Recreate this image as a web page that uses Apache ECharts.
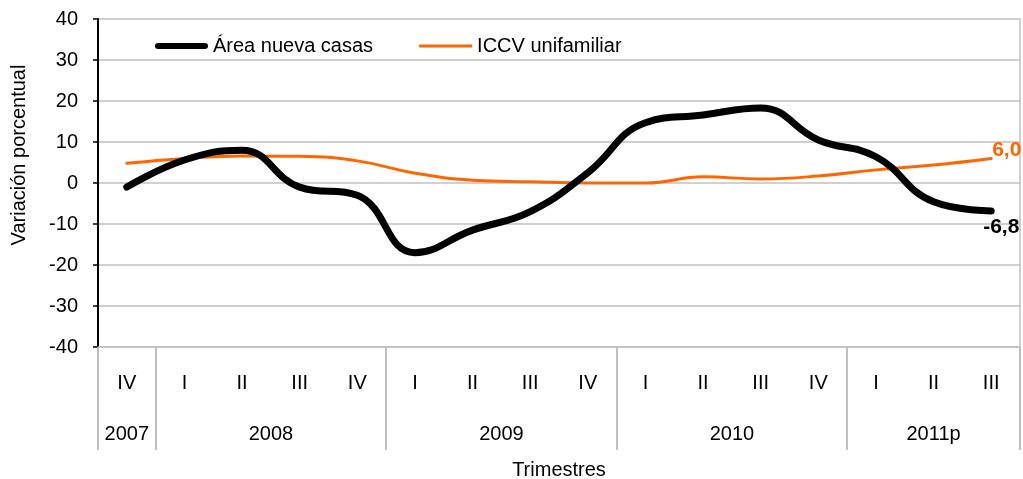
<!DOCTYPE html>
<html>
<head>
<meta charset="utf-8">
<script src="https://cdn.jsdelivr.net/npm/echarts@6/dist/echarts.min.js"></script>
<style>
  html, body { margin: 0; padding: 0; background: #fff; }
  #chart { width: 1023px; height: 479px; }
</style>
</head>
<body>
<div id="chart"></div>
<script>
// trimestres
const quarters = ['IV', 'I', 'II', 'III', 'IV', 'I', 'II', 'III', 'IV', 'I', 'II', 'III', 'IV', 'I', 'II', 'III'];
// años (segundo nivel del eje, 33 puntos de medio trimestre)
const years = ['2007', '2008', '2009', '2010', '2011p'];
const yearMid = [1, 6, 14, 22, 29];
const yearBounds = [0, 2, 10, 18, 26, 32];

const areaNueva = [-1.0, 5.6, 8.0, -1.0, -3.0, -17.0, -11.5, -7.0, 2.5, 14.7, 16.6, 18.3, 10.5, 6.4, -4.6, -6.8];
const iccv = [4.8, 6.0, 6.6, 6.5, 5.4, 2.4, 0.7, 0.3, 0.0, 0.0, 1.5, 1.0, 1.7, 3.2, 4.4, 6.0];

const yearAxisData = [];
for (let i = 0; i <= 32; i++) {
  const k = yearMid.indexOf(i);
  yearAxisData.push(k >= 0 ? years[k] : '');
}

const font = 'Arial, "Liberation Sans", sans-serif';
const commaFmt = p => Number(p.value).toFixed(1).replace('.', ',');

const chart = echarts.init(document.getElementById('chart'), null, { renderer: 'canvas' });

const option = {
  animation: false,
  textStyle: { fontFamily: font },
  grid: { left: 98, right: 3, top: 19, bottom: 132, containLabel: false, outerBoundsMode: 'none' },
  legend: {
    top: 31,
    left: 150,
    itemWidth: 53,
    itemHeight: 14,
    itemGap: 46,
    textStyle: { fontSize: 20, color: '#000', fontFamily: font },
    data: [
      { name: 'Área nueva casas', icon: 'path://M3,0 L50,0 A3,3 0 0 1 50,6 L3,6 A3,3 0 0 1 3,0 Z' },
      { name: 'ICCV unifamiliar', icon: 'path://M0,0 L53,0 L53,3 L0,3 Z' }
    ]
  },
  xAxis: [
    {
      type: 'category',
      data: quarters,
      boundaryGap: true,
      position: 'bottom',
      axisLine: { show: true, onZero: false, lineStyle: { color: '#bfbfbf', width: 1.5 } },
      axisTick: { show: false },
      axisLabel: { color: '#000', fontSize: 20, margin: 26, interval: 0 },
      splitLine: { show: false }
    },
    {
      type: 'category',
      data: yearAxisData,
      boundaryGap: false,
      position: 'bottom',
      offset: 0,
      axisLine: { show: false, onZero: false },
      axisTick: {
        show: true,
        length: 103,
        interval: (i) => yearBounds.indexOf(i) >= 0,
        lineStyle: { color: '#bfbfbf', width: 2 }
      },
      axisLabel: {
        color: '#000',
        fontSize: 20,
        margin: 77,
        interval: (i) => yearMid.indexOf(i) >= 0
      },
      name: 'Trimestres',
      nameLocation: 'middle',
      nameGap: 113,
      nameTextStyle: { color: '#000', fontSize: 20 }
    }
  ],
  yAxis: [
    {
      type: 'value',
      min: -40,
      max: 40,
      interval: 10,
      axisLine: { show: true, onZero: false, lineStyle: { color: '#000', width: 2 } },
      axisTick: { show: true, length: 5, lineStyle: { color: '#000', width: 1.5 } },
      axisLabel: { color: '#000', fontSize: 20, margin: 20 },
      splitLine: { show: true, lineStyle: { color: '#c0c0c0', width: 1.5 } },
      name: 'Variación porcentual',
      nameLocation: 'middle',
      nameGap: 69,
      nameTextStyle: { color: '#000', fontSize: 20, padding: [0, 0, 0, 56] }
    },
    {
      type: 'value',
      position: 'right',
      min: -40,
      max: 40,
      interval: 10,
      axisLine: { show: true, onZero: false, lineStyle: { color: '#c0c0c0', width: 1.5 } },
      axisTick: { show: false },
      axisLabel: { show: false },
      splitLine: { show: false }
    }
  ],
  series: [
    {
      name: 'Área nueva casas',
      type: 'line',
      xAxisIndex: 0,
      yAxisIndex: 0,
      smooth: 0.45,
      showSymbol: false,
      symbol: 'none',
      z: 3,
      lineStyle: { color: '#000', width: 7, cap: 'round' },
      itemStyle: { color: '#000' },
      endLabel: {
        show: true,
        offset: [-16, 16],
        color: '#000',
        fontWeight: 'bold',
        fontSize: 21,
        fontFamily: font,
        formatter: commaFmt
      },
      data: areaNueva
    },
    {
      name: 'ICCV unifamiliar',
      type: 'line',
      xAxisIndex: 0,
      yAxisIndex: 0,
      smooth: 0.45,
      showSymbol: false,
      symbol: 'none',
      z: 2,
      lineStyle: { color: '#ff6600', width: 3, cap: 'round' },
      itemStyle: { color: '#ff6600' },
      endLabel: {
        show: true,
        offset: [-7, -8],
        color: '#ff6600',
        fontWeight: 'bold',
        fontSize: 21,
        fontFamily: font,
        formatter: commaFmt
      },
      data: iccv
    }
  ]
};

chart.setOption(option);
</script>
</body>
</html>
